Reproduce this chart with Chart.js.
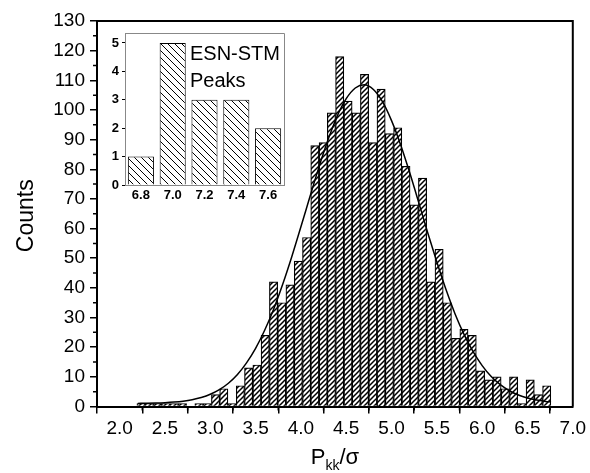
<!DOCTYPE html>
<html><head><meta charset="utf-8">
<script src="https://cdn.jsdelivr.net/npm/chart.js@4.4.0/dist/chart.umd.min.js"></script>
<style>
html,body{margin:0;padding:0;background:#fff;}
#wrap{position:relative;width:590px;height:473px;background:#fff;}
#main{position:absolute;left:0;top:0;}
#inset{position:absolute;left:95px;top:20px;}
</style></head><body>
<div id="wrap"><canvas id="main" width="590" height="473"></canvas><canvas id="inset" width="200" height="190"></canvas></div>
<script>
// ---- data ----
const binCenters = [2.236,2.327,2.418,2.510,2.601,2.693,2.784,2.875,2.967,3.058,
  3.149,3.241,3.332,3.423,3.515,3.606,3.698,3.789,3.880,3.972,
  4.063,4.154,4.246,4.337,4.428,4.520,4.611,4.702,4.794,4.885,
  4.977,5.068,5.159,5.251,5.342,5.433,5.525,5.616,5.707,5.799,
  5.890,5.982,6.073,6.164,6.256,6.347,6.438,6.530,6.621,6.712];
const counts = [1,1,1,1,1,1,0,1,1,4,
  6,1,7,13,14,24,42,35,41,49,
  57,88,89,99,118,103,99,112,89,107,
  92,94,81,68,77,42,53,35,23,26,
  24,12,9,10,6,10,1,9,4,7];
const fitX = [2.2,2.3,2.4,2.5,2.6,2.7,2.8,2.9,3.0,3.1,3.2,3.3,3.4,3.5,3.6,3.7,3.8,3.9,4.0,4.1,4.2,4.3,4.4,4.5,4.6,4.7,4.8,4.9,5.0,5.1,5.2,5.3,5.4,5.5,5.6,5.7,5.8,5.9,6.0,6.1,6.2,6.3,6.4,6.5,6.6,6.7,6.76];
const fitY = [1.05,1.09,1.16,1.28,1.48,1.79,2.28,3.02,4.11,5.68,7.85,10.8,14.7,19.6,25.7,32.9,41.3,50.6,60.6,70.8,80.8,90.0,97.9,103.8,107.4,108.5,106.9,102.8,96.4,88.3,78.9,68.8,58.5,48.7,39.5,31.3,24.3,18.5,13.8,10.1,7.36,5.32,3.86,2.85,2.16,1.72,1.53];
const xTickValues = [2.0,2.5,3.0,3.5,4.0,4.5,5.0,5.5,6.0,6.5,7.0];
const xMinorTickValues = [2.25,2.75,3.25,3.75,4.25,4.75,5.25,5.75,6.25,6.75];
const yTickValues = [0,10,20,30,40,50,60,70,80,90,100,110,120,130];
const yMinorTickValues = [5,15,25,35,45,55,65,75,85,95,105,115,125];
const insetCategories = ['6.8','7.0','7.2','7.4','7.6'];
const insetCounts = [1,5,3,3,2];
const insetYTicks = [0,1,2,3,4,5];
const xTitleMain = 'P', xTitleSub = 'kk', xTitleTail = '/\u03C3';
const yTitle = 'Counts';
const insetText = ['ESN-STM','Peaks'];

const FONT = '"Liberation Sans", Arial, sans-serif';

function hatch(ctx, size, dir, lw) {
  const c = document.createElement('canvas'); c.width = size; c.height = size;
  const g = c.getContext('2d');
  g.fillStyle = '#fff'; g.fillRect(0,0,size,size);
  g.strokeStyle = '#000'; g.lineWidth = lw; g.beginPath();
  if (dir === '/') {
    g.moveTo(-1,size+1); g.lineTo(size+1,-1);
    g.moveTo(-size/2-1,size/2+1); g.lineTo(size/2+1,-size/2-1);
    g.moveTo(size/2-1,size*1.5+1); g.lineTo(size*1.5+1,size/2-1);
  } else {
    g.moveTo(-1,-1); g.lineTo(size+1,size+1);
    g.moveTo(-size/2-1,size/2-1); g.lineTo(size/2+1,size*1.5+1);
    g.moveTo(size/2-1,-size/2-1); g.lineTo(size*1.5+1,size/2+1);
  }
  g.stroke();
  return ctx.createPattern(c,'repeat');
}

const mainCtx = document.getElementById('main').getContext('2d');
const insetCtx = document.getElementById('inset').getContext('2d');
const fwd = hatch(mainCtx, 5, '/', 1.5);
const back = hatch(insetCtx, 7, '\\', 1);

const mainDecor = {
  id: 'mainDecor',
  afterDraw(chart) {
    const {ctx, chartArea: a, scales: {x, y}} = chart;
    ctx.save();
    ctx.strokeStyle = '#000'; ctx.lineWidth = 1.5;
    ctx.beginPath();
    xMinorTickValues.forEach(v => { const p = x.getPixelForValue(v); ctx.moveTo(p, a.bottom); ctx.lineTo(p, a.bottom + 4); });
    yMinorTickValues.forEach(v => { const p = y.getPixelForValue(v); ctx.moveTo(a.left, p); ctx.lineTo(a.left - 4, p); });
    ctx.stroke();
    ctx.lineWidth = 2;
    ctx.beginPath(); ctx.moveTo(a.left, a.top); ctx.lineTo(a.right, a.top); ctx.lineTo(a.right, a.bottom); ctx.stroke();
    // axis titles
    ctx.fillStyle = '#000';
    ctx.font = '22px ' + FONT;
    ctx.textBaseline = 'alphabetic';
    const wP = ctx.measureText(xTitleMain).width;
    const wT = ctx.measureText(xTitleTail).width;
    ctx.font = '14px ' + FONT;
    const wS = ctx.measureText(xTitleSub).width;
    const total = wP + wS + wT;
    let sx = (a.left + a.right) / 2 - total / 2;
    const base = 464;
    ctx.font = '22px ' + FONT; ctx.textAlign = 'left';
    ctx.fillText(xTitleMain, sx, base);
    ctx.font = '14px ' + FONT;
    ctx.fillText(xTitleSub, sx + wP, base + 6);
    ctx.font = '22px ' + FONT;
    ctx.fillText(xTitleTail, sx + wP + wS, base);
    ctx.font = '23px ' + FONT;
    ctx.translate(27, (a.top + a.bottom) / 2 + 2);
    ctx.rotate(-Math.PI / 2);
    ctx.textAlign = 'center'; ctx.textBaseline = 'middle';
    ctx.fillText(yTitle, 0, 0);
    ctx.restore();
  }
};

new Chart(mainCtx, {
  type: 'bar',
  data: {
    datasets: [
      { type: 'line', data: fitX.map((v, i) => ({x: v, y: fitY[i]})), borderColor: '#000', borderWidth: 1.5,
        pointRadius: 0, tension: 0.4, cubicInterpolationMode: 'monotone', fill: false, order: 0 },
      { type: 'bar', data: binCenters.map((v, i) => ({x: v, y: counts[i]})), backgroundColor: fwd,
        borderColor: '#000', borderWidth: 1.2, barPercentage: 1, categoryPercentage: 1, order: 1 }
    ]
  },
  options: {
    responsive: false, animation: false, devicePixelRatio: 1,
    layout: {padding: {left: 0, right: 14.5, top: 21, bottom: 0}},
    plugins: {legend: {display: false}, tooltip: {enabled: false}},
    scales: {
      x: {
        type: 'linear', min: 1.75, max: 7.0, offset: false,
        afterBuildTicks: s => { s.ticks = xTickValues.map(v => ({value: v})); },
        afterFit: s => { s.height = 473 - 406.5; },
        ticks: {callback: v => Number(v).toFixed(1), font: {family: FONT, size: 19}, color: '#000', padding: 4, maxRotation: 0, autoSkip: false},
        grid: {drawOnChartArea: false, drawTicks: true, tickLength: 7, color: '#000', lineWidth: 1.5},
        border: {color: '#000', width: 2}
      },
      y: {
        min: 0, max: 130,
        afterBuildTicks: s => { s.ticks = yTickValues.map(v => ({value: v})); },
        afterFit: s => { s.width = 97; },
        ticks: {font: {family: FONT, size: 19}, color: '#000', padding: 5},
        grid: {drawOnChartArea: false, drawTicks: true, tickLength: 7, color: '#000', lineWidth: 1.5},
        border: {color: '#000', width: 2}
      }
    }
  },
  plugins: [mainDecor]
});

const insetDecor = {
  id: 'insetDecor',
  afterDraw(chart) {
    const {ctx, chartArea: a} = chart;
    ctx.save();
    ctx.strokeStyle = '#888'; ctx.lineWidth = 1;
    ctx.beginPath(); ctx.moveTo(a.left, a.top + 0.5); ctx.lineTo(a.right + 0.5, a.top + 0.5); ctx.lineTo(a.right + 0.5, a.bottom); ctx.stroke();
    ctx.fillStyle = '#000';
    ctx.font = '20px ' + FONT; ctx.textAlign = 'left'; ctx.textBaseline = 'middle';
    ctx.fillText(insetText[0], 95, 34);
    ctx.fillText(insetText[1], 95, 61);
    ctx.restore();
  }
};

new Chart(insetCtx, {
  type: 'bar',
  data: {
    labels: insetCategories,
    datasets: [{data: insetCounts, backgroundColor: back, borderColor: '#000', borderWidth: 1, barPercentage: 0.82, categoryPercentage: 1}]
  },
  options: {
    responsive: false, animation: false, devicePixelRatio: 1,
    layout: {padding: {left: 0, right: 11, top: 13, bottom: 0}},
    plugins: {legend: {display: false}, tooltip: {enabled: false}},
    scales: {
      x: {
        grid: {display: false, drawTicks: false},
        border: {color: '#888', width: 1},
        ticks: {font: {family: FONT, size: 13, weight: 'bold'}, color: '#000', padding: 3},
        afterFit: s => { s.height = 25; }
      },
      y: {
        min: 0, max: 5.35,
        afterBuildTicks: s => { s.ticks = insetYTicks.map(v => ({value: v})); },
        afterFit: s => { s.width = 30; },
        grid: {drawOnChartArea: false, drawTicks: true, tickLength: 3, color: '#000'},
        border: {color: '#888', width: 1},
        ticks: {font: {family: FONT, size: 13, weight: 'bold'}, color: '#000', padding: 3}
      }
    }
  },
  plugins: [insetDecor]
});
</script>
</body></html>
